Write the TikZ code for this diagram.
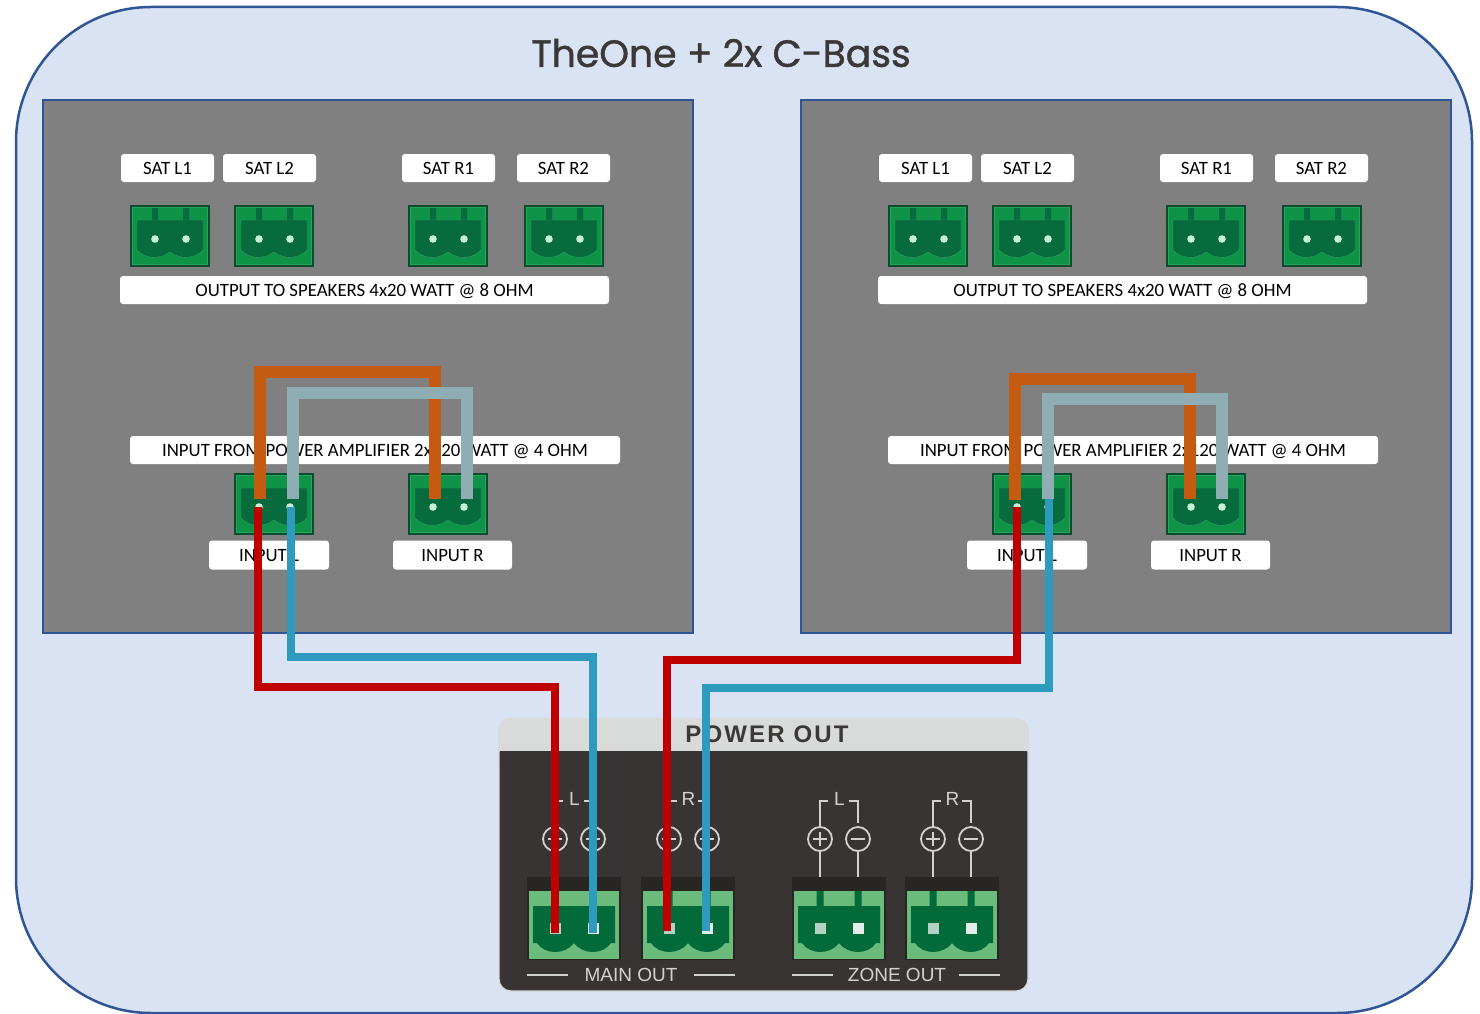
\documentclass[tikz,border=0pt]{standalone}
\usepackage{fontspec}
\setmainfont{Carlito}
\newfontfamily\titlefont[FakeBold=1.2]{Poppins}
\newfontfamily\ampfont[LetterSpace=9]{Liberation Sans}
\newfontfamily\ampthin{Liberation Sans}
\definecolor{outerfill}{HTML}{DAE3F3}
\definecolor{outerline}{HTML}{2F5597}
\definecolor{termbody}{HTML}{0E9347}
\definecolor{termedge}{HTML}{0A4D2E}
\definecolor{termin}{HTML}{086B3E}
\definecolor{termline}{HTML}{2BA35F}
\definecolor{termdot}{HTML}{C8EFD8}
\definecolor{ampgreen}{HTML}{6ABB7C}
\definecolor{ampin}{HTML}{036A3A}
\definecolor{ampbody}{HTML}{383433}
\definecolor{amptop}{HTML}{D9DBDA}
\definecolor{ampink}{HTML}{D2D2D2}
\definecolor{ampdark}{HTML}{282623}
\definecolor{pinleft}{HTML}{B4D1C4}
\definecolor{pinright}{HTML}{E4EDE8}
\definecolor{titleink}{HTML}{3B3838}
\tikzset{
  labelbox/.style={fill=white,rounded corners=3pt,inner sep=0pt,minimum height=28pt,text=black,text height=14pt,text depth=2pt,font=\fontsize{18.8}{20}\selectfont},
  orangewire/.style={draw={rgb,255:red,197;green,90;blue,17},line width=12pt},
  graywire/.style={draw={rgb,255:red,143;green,174;blue,179},line width=12pt},
  redwire/.style={draw={rgb,255:red,192;green,0;blue,0},line width=8pt},
  bluewire/.style={draw={rgb,255:red,46;green,154;blue,190},line width=8pt},
  amptrace/.style={draw=ampink,line width=1.8pt}
}
% green terminal on the boards: name, left, top
\newcommand{\boardterm}[3]{
  \node[draw=termedge,fill=termbody,line width=1.5pt,minimum width=78pt,minimum height=60pt,inner sep=0pt] (#1) at (#2+40,#3+31) {};
  \begin{scope}[shift={(#2,#3)}]
    \draw[termline,line width=0.8pt] (2.5,2.5) rectangle (77.5,59.5);
    \fill[termin] (22,3) rectangle (28,15) (53,3) rectangle (59,15);
    \draw[termline,fill=termin] (7,15) -- (73,15) -- (73,45) .. controls (65,54) and (50,55) .. (40,47) .. controls (30,55) and (15,54) .. (7,45) -- cycle;
    \coordinate (#1a) at (25,34);
    \coordinate (#1b) at (56,34);
    \fill[termdot] (#1a) circle (3.8) (#1b) circle (3.8);
  \end{scope}
}
% green terminal on the amplifier: name, left, top
\newcommand{\ampterm}[3]{
  \begin{scope}[shift={(#2,#3)}]
    \fill[ampdark] (0,0) rectangle (94,83);
    \fill[ampgreen] (2,14) rectangle (92,82);
    \fill[ampin] (24.5,14) rectangle (31.5,29) (62.5,14) rectangle (69.5,29);
    \fill[ampin] (6,29) -- (88,29) -- (88,66) -- (84,66) .. controls (76,78) and (56,78) .. (47,66) .. controls (38,78) and (18,78) .. (10,66) -- (6,66) -- cycle;
    \coordinate (#1a) at (28,51);
    \coordinate (#1b) at (66,51);
    \fill[pinleft] ([shift={(-5.5,-5.5)}]#1a) rectangle ++(11,11);
    \fill[pinright] ([shift={(-5.5,-5.5)}]#1b) rectangle ++(11,11);
  \end{scope}
}
% plus and minus marks with their bracket above a terminal: left pin, letter
\newcommand{\ampmarks}[2]{
  \draw[amptrace] (#1,877) -- (#1,851) (#1,827) -- (#1,801) -- (#1+8,801);
  \draw[amptrace] (#1+38,877) -- (#1+38,851) (#1+38,823) -- (#1+38,801) -- (#1+29,801);
  \draw[amptrace] (#1,839) circle (12) (#1+38,839) circle (12);
  \draw[amptrace] (#1-7,839) -- (#1+7,839) (#1,832) -- (#1,846) (#1+31,839) -- (#1+45,839);
  \node[text=ampink,font=\ampthin\fontsize{19}{20}\selectfont,inner sep=0pt] (mark#2) at (#1+19.5,799) {#2};
}
\begin{document}
\begin{tikzpicture}[x=1pt,y=-1pt]
  \useasboundingbox (0,0) rectangle (1480,1014);
  \fill[white] (0,0) rectangle (1480,1014);
  \draw[draw=outerline,fill=outerfill,line width=2.5pt,rounded corners=135pt] (16,7) rectangle (1472,1013);
  \node[text=titleink,font=\titlefont\fontsize{37.8}{40}\selectfont,inner sep=0pt] (title) at (721,53) {TheOne + 2x C-Bass};
  % the two boards
  \foreach \p/\dx in {l/0,r/758}{
    \draw[draw=outerline,fill=black!50,line width=2pt] (43+\dx,100) rectangle (693+\dx,633);
    \node[labelbox,minimum width=93pt] (\p satLa) at (167.5+\dx,168) {SAT L1};
    \node[labelbox,minimum width=93pt] (\p satLb) at (269.5+\dx,168) {SAT L2};
    \node[labelbox,minimum width=93pt] (\p satRa) at (448.5+\dx,168) {SAT R1};
    \node[labelbox,minimum width=93pt] (\p satRb) at (563.5+\dx,168) {SAT R2};
    \boardterm{\p outLa}{130+\dx}{205}
    \boardterm{\p outLb}{234+\dx}{205}
    \boardterm{\p outRa}{408+\dx}{205}
    \boardterm{\p outRb}{524+\dx}{205}
    \node[labelbox,minimum width=489pt] (\p output) at (364.5+\dx,290) {OUTPUT TO SPEAKERS 4x20 WATT @ 8 OHM};
    \node[labelbox,minimum width=490pt] (\p input) at (375+\dx,450) {INPUT FROM POWER AMPLIFIER 2x120 WATT @ 4 OHM};
    \boardterm{\p inL}{234+\dx}{473}
    \boardterm{\p inR}{408+\dx}{473}
    \node[labelbox,minimum width=120pt,minimum height=29pt] (\p inLlabel) at (269+\dx,555) {INPUT L};
    \node[labelbox,minimum width=119pt,minimum height=29pt] (\p inRlabel) at (452.5+\dx,555) {INPUT R};
  }
  % amplifier
  \fill[amptop,rounded corners=12pt] (498,718) rectangle (1029,770);
  \draw[draw=amptop,fill=ampbody,line width=1.2pt,rounded corners=12pt] (499,740) rectangle (1028,991);
  \fill[amptop] (498,730) rectangle (1029,751);
  \node[text=titleink,font=\ampfont\bfseries\fontsize{24}{26}\selectfont,inner sep=0pt] (powerout) at (767,734) {POWER OUT};
  \foreach \m/\t in {555/L,669/R,820/L,933/R}{
    \ampmarks{\m}{\t}
  }
  \ampterm{mainL}{527}{877}
  \ampterm{mainR}{641}{877}
  \ampterm{zoneL}{792}{877}
  \ampterm{zoneR}{905}{877}
  \node[text=ampink,font=\ampthin\fontsize{19}{20}\selectfont,inner sep=0pt] (mainout) at (631,975) {MAIN OUT};
  \node[text=ampink,font=\ampthin\fontsize{19}{20}\selectfont,inner sep=0pt] (zoneout) at (897,975) {ZONE OUT};
  \draw[amptrace] (527,975) -- (568,975) (694,975) -- (735,975) (792,975) -- (833,975) (959,975) -- (1000,975);
  % wires on the left board
  \draw[orangewire] ([shift={(1,-8)}]linLa) -- ++(0,-127) -| ([shift={(2,-8)}]linRa);
  \draw[graywire] ([shift={(3,-8)}]linLb) -- ++(0,-106) -| ([shift={(3,-8)}]linRb);
  \draw[redwire] ([shift={(-1,0)}]linLa) -- ++(0,180) -| ([yshift=-5pt]mainLa);
  \draw[bluewire] ([shift={(1,0)}]linLb) -- ++(0,150) -| ([yshift=-5pt]mainLb);
  % wires on the right board
  \draw[orangewire] ([shift={(-2,-7)}]rinLa) -- ++(0,-121) -| ([shift={(-1,-8)}]rinRa);
  \draw[graywire] ([shift={(0,-8)}]rinLb) -- ++(0,-100) -| ([shift={(0,-8)}]rinRb);
  \draw[redwire] (rinLa) -- ++(0,153) -| ([shift={(-2,3)}]mainRa);
  \draw[bluewire] ([shift={(1,-8)}]rinLb) -- ++(0,189) -| ([shift={(-1,3)}]mainRb);
\end{tikzpicture}
\end{document}
